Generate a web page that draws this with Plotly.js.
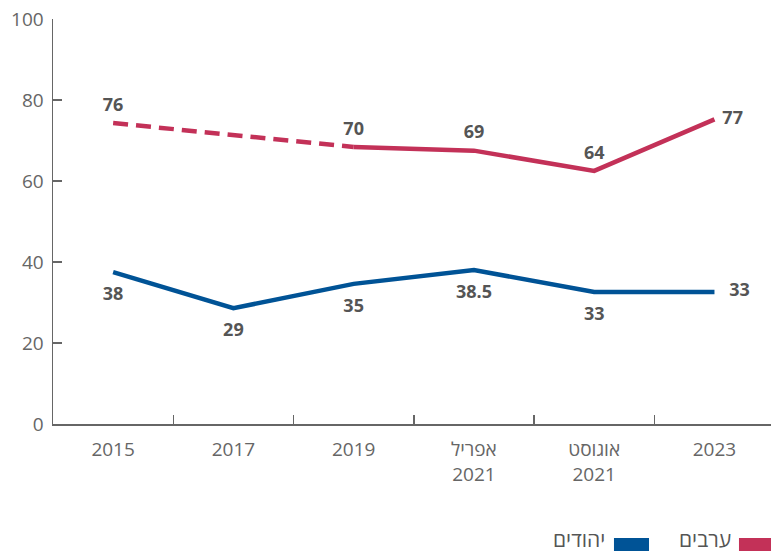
<!DOCTYPE html>
<html>
<head>
<meta charset="utf-8">
<script src="https://cdn.plot.ly/plotly-3.0.1.min.js"></script>
<style>html,body{margin:0;padding:0;background:#fff;}#chart{width:771px;height:552px;}</style>
</head>
<body>
<div id="chart"></div>
<script>
// Categories (x axis)
var categories = ['2015', '2017', '2019', 'אפריל<br>2021', 'אוגוסט<br>2021', '2023'];
// Arabs series: plotted values (no survey in 2017)
var arabsValues = [74.3, null, 68.4, 67.5, 62.5, 75.2];
var arabsLabels = ['76', '', '70', '69', '64', '77'];
// Jews series
var jewsValues = [37.5, 28.6, 34.6, 38.0, 32.6, 32.6];
var jewsLabels = ['38', '29', '35', '38.5', '33', '33'];
// Legend names
var arabsName = 'ערבים';
var jewsName = 'יהודים';
var yTicks = [0, 20, 40, 60, 80, 100];

var RED = '#c33158';
var BLUE = '#005396';
var LABEL = '#555555';
var FONT = 'Open Sans, DejaVu Sans, sans-serif';

// dashed part: from first point to 2019 (gap through 2017)
var dashIdx = [0, 1, 2];
var solidIdx = [2, 3, 4, 5];

function pick(arr, idx, fill) {
  return arr.map(function (v, i) { return idx.indexOf(i) >= 0 ? v : fill; });
}

var arabsPos = arabsLabels.map(function (_, i) { return i === 5 ? 'middle right' : 'top center'; });
var jewsPos = jewsLabels.map(function (_, i) { return i === 5 ? 'middle right' : 'bottom center'; });

var labelFont = {family: FONT, size: 18, color: LABEL, weight: 'bold'};

var traces = [
  {
    x: categories, y: pick(arabsValues, dashIdx, null), type: 'scatter', mode: 'lines',
    connectgaps: true, line: {color: RED, width: 4.5, dash: '15px,8px'}, hoverinfo: 'skip', showlegend: false
  },
  {
    x: categories, y: pick(arabsValues, solidIdx, null), type: 'scatter', mode: 'lines',
    line: {color: RED, width: 4.5}, showlegend: false, name: arabsName
  },
  {
    x: categories, y: jewsValues, type: 'scatter', mode: 'lines',
    line: {color: BLUE, width: 4.5}, showlegend: false, name: jewsName
  },
  {
    x: categories, y: arabsValues, type: 'scatter', mode: 'markers+text', text: arabsLabels,
    marker: {size: 11, opacity: 0}, textposition: arabsPos, textfont: labelFont,
    showlegend: false, hoverinfo: 'skip'
  },
  {
    x: categories, y: jewsValues, type: 'scatter', mode: 'markers+text', text: jewsLabels,
    marker: {size: 22, opacity: 0}, textposition: jewsPos, textfont: labelFont,
    showlegend: false, hoverinfo: 'skip'
  }
];

var layout = {
  width: 771, height: 552,
  margin: {l: 53, r: 0, t: 19, b: 128},
  paper_bgcolor: '#fff', plot_bgcolor: '#fff',
  font: {family: FONT, size: 19, color: '#666'},
  showlegend: false,
  xaxis: {
    type: 'category', range: [-0.5, 5.47], tickson: 'boundaries',
    ticks: 'inside', ticklen: 9, tickcolor: '#666', tickwidth: 1.5,
    showline: true, linecolor: '#666', linewidth: 1.5, showgrid: false, zeroline: false,
    tickfont: {family: FONT, size: 19, color: '#666'}, ticklabelstandoff: 8
  },
  yaxis: {
    range: [0, 100], tickvals: yTicks, ticks: 'inside', ticklen: 9, tickcolor: '#666', tickwidth: 1.5,
    showline: true, linecolor: '#666', linewidth: 1.5, showgrid: false, zeroline: false,
    tickfont: {family: FONT, size: 19, color: '#666'}, ticklabelstandoff: 4
  },
  shapes: [
    {type: 'rect', xref: 'paper', yref: 'paper', x0: 0.7813, x1: 0.8301, y0: -0.2815, y1: -0.3136, fillcolor: BLUE, line: {width: 0}},
    {type: 'rect', xref: 'paper', yref: 'paper', x0: 0.9554, x1: 1.0, y0: -0.2815, y1: -0.3136, fillcolor: RED, line: {width: 0}}
  ],
  annotations: [
    {xref: 'paper', yref: 'paper', x: 0.7716, y: -0.2840, xanchor: 'right', yanchor: 'middle', showarrow: false,
     text: jewsName, font: {family: FONT, size: 21, color: LABEL}},
    {xref: 'paper', yref: 'paper', x: 0.9471, y: -0.2840, xanchor: 'right', yanchor: 'middle', showarrow: false,
     text: arabsName, font: {family: FONT, size: 21, color: LABEL}}
  ]
};

Plotly.newPlot('chart', traces, layout, {displayModeBar: false, staticPlot: true});
</script>
</body>
</html>
